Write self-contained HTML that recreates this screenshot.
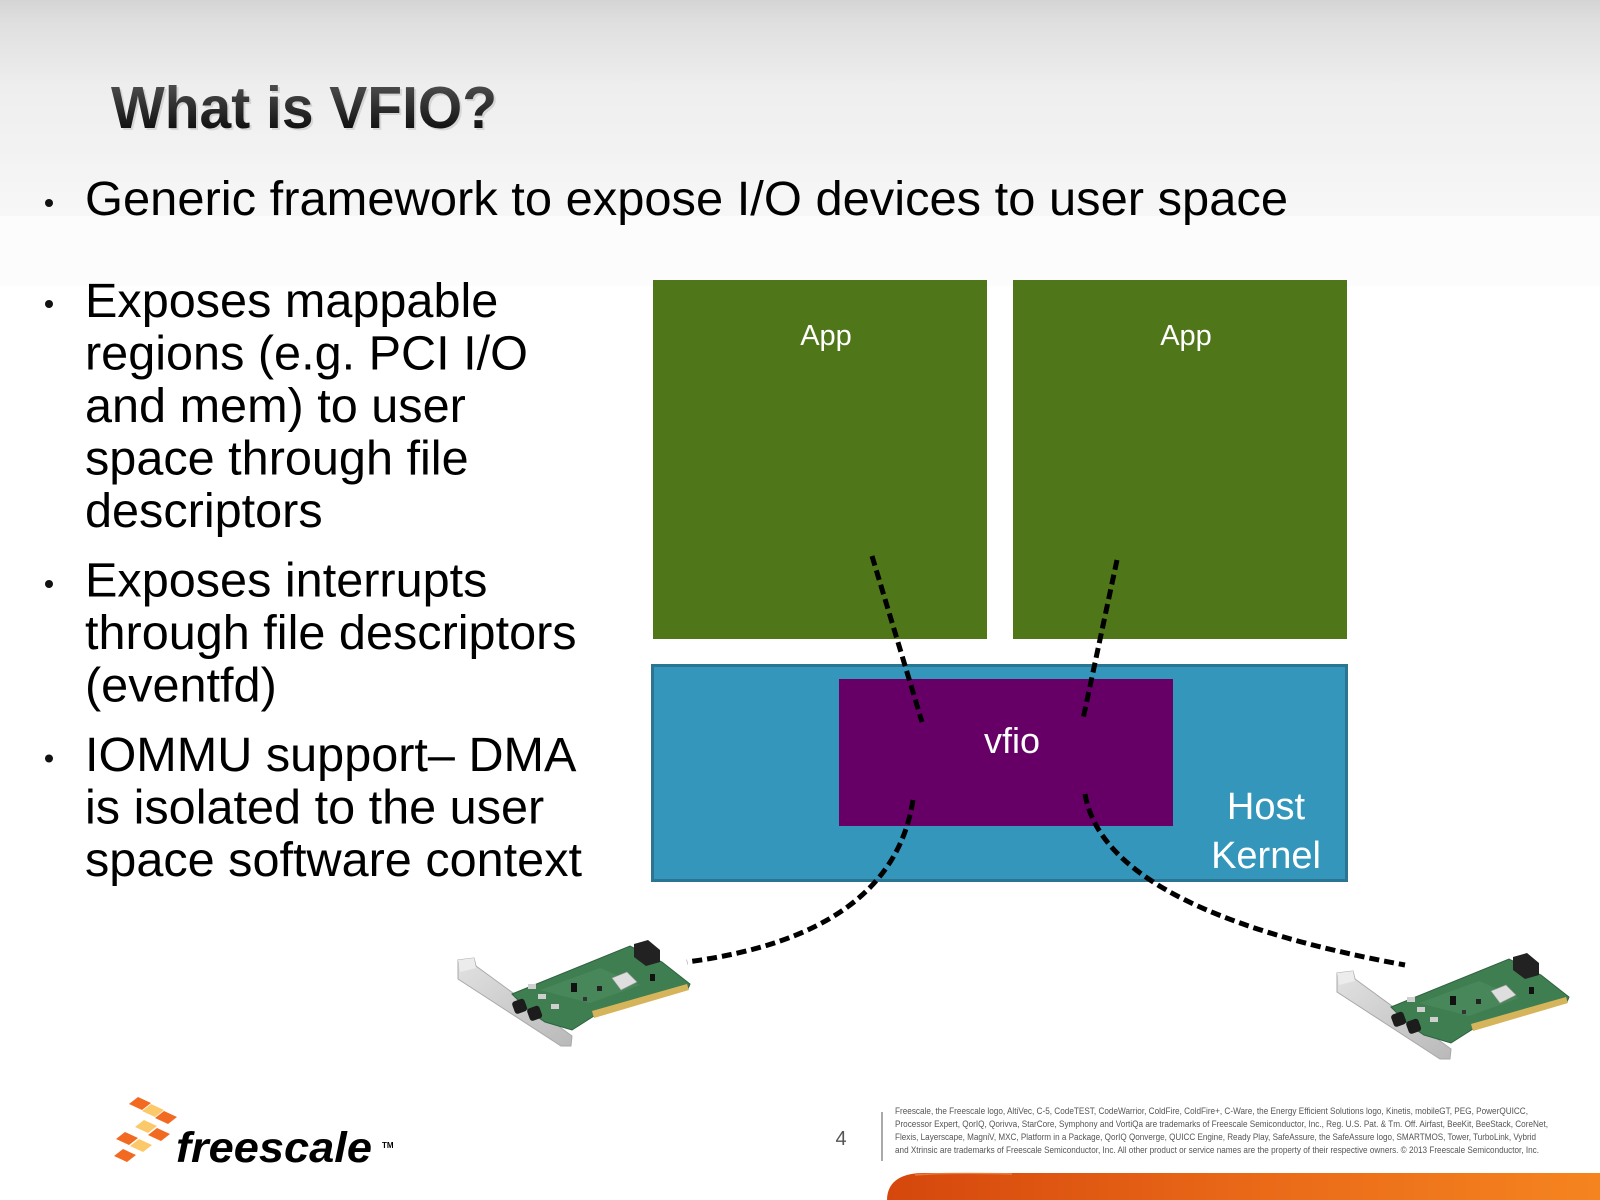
<!DOCTYPE html>
<html><head><meta charset="utf-8"><style>
html,body{margin:0;padding:0;background:#fff;}
svg{display:block;}
</style></head><body>
<svg width="1600" height="1200" viewBox="0 0 1600 1200" xmlns="http://www.w3.org/2000/svg" font-family="'Liberation Sans', Arial, sans-serif">
<defs>
 <linearGradient id="hdr" x1="0" y1="0" x2="0" y2="1">
  <stop offset="0" stop-color="#d4d4d4"/>
  <stop offset="0.1" stop-color="#dfdfdf"/>
  <stop offset="0.4" stop-color="#eeeeee"/>
  <stop offset="1" stop-color="#f7f7f7"/>
 </linearGradient>
 <linearGradient id="ttl" x1="0" y1="0" x2="0" y2="1">
  <stop offset="0" stop-color="#5a5a5a"/>
  <stop offset="1" stop-color="#000000"/>
 </linearGradient>
 <linearGradient id="bar" x1="0" y1="0" x2="1" y2="0">
  <stop offset="0" stop-color="#d5470c"/>
  <stop offset="0.5" stop-color="#e96818"/>
  <stop offset="1" stop-color="#f5841f"/>
 </linearGradient>
 <linearGradient id="brk" x1="0" y1="0" x2="1" y2="1">
  <stop offset="0" stop-color="#e2e2e2"/>
  <stop offset="1" stop-color="#b9b9b9"/>
 </linearGradient>
 <g id="card">
  <polygon points="458,960 474,958 476,966 572,1036 571,1046 561,1046 458,979" fill="url(#brk)" stroke="#a8a8a8" stroke-width="1"/>
  <polygon points="458,960 474,958 476,968 460,972" fill="#ececec"/>
  <polygon points="512,994 630,946 662,962 690,984 688,989 594,1016 572,1030 545,1022 530,1012" fill="#3f7e50" stroke="#2f6240" stroke-width="1"/>
  <polygon points="540,990 600,968 640,985 590,1003" fill="#4b8c5c" opacity="0.7"/>
  <polygon points="592,1011 687,984 689,990 594,1018" fill="#d6b45c"/>
  <polygon points="634,944 648,940 660,950 660,962 646,966 634,957" fill="#222"/>
  <polygon points="612,978 627,972 637,982 621,990" fill="#dedede" stroke="#999" stroke-width="0.6"/>
  <rect x="513" y="1000" width="13" height="13" rx="3" fill="#1c1c1c" transform="rotate(-20 519 1006)"/>
  <rect x="528" y="1007" width="13" height="13" rx="3" fill="#1c1c1c" transform="rotate(-20 534 1013)"/>
  <rect x="528" y="984" width="8" height="5" fill="#cfcfcf"/>
  <rect x="538" y="994" width="8" height="5" fill="#cfcfcf"/>
  <rect x="551" y="1004" width="8" height="5" fill="#cfcfcf"/>
  <rect x="571" y="983" width="6" height="9" fill="#111"/>
  <rect x="597" y="986" width="5" height="5" fill="#222"/>
  <rect x="650" y="974" width="5" height="7" fill="#111"/>
  <rect x="583" y="997" width="4" height="4" fill="#333"/>
 </g>
</defs>

<rect x="0" y="0" width="1600" height="1200" fill="#ffffff"/>
<rect x="0" y="0" width="1600" height="216" fill="url(#hdr)"/>
<rect x="0" y="216" width="1600" height="70" fill="#fcfcfc"/>

<text x="113" y="130" font-size="59" font-weight="bold" fill="#000" opacity="0.1" textLength="386" lengthAdjust="spacingAndGlyphs">What is VFIO?</text>
<text x="111" y="128" font-size="59" font-weight="bold" fill="url(#ttl)" textLength="386" lengthAdjust="spacingAndGlyphs">What is VFIO?</text>

<circle cx="49" cy="203" r="4" fill="#111"/>
<text x="85" y="215" font-size="48.6" fill="#000" textLength="1203" lengthAdjust="spacingAndGlyphs">Generic framework to expose I/O devices to user space</text>

<g font-size="48.6" fill="#000">
 <circle cx="49" cy="304" r="4" fill="#111"/>
 <text x="85" y="317">Exposes mappable</text>
 <text x="85" y="369.5">regions (e.g. PCI I/O</text>
 <text x="85" y="422">and mem) to user</text>
 <text x="85" y="474.5">space through file</text>
 <text x="85" y="527">descriptors</text>
 <circle cx="49" cy="584" r="4" fill="#111"/>
 <text x="85" y="596.5">Exposes interrupts</text>
 <text x="85" y="649">through file descriptors</text>
 <text x="85" y="701.5">(eventfd)</text>
 <circle cx="49" cy="758.5" r="4" fill="#111"/>
 <text x="85" y="771">IOMMU support– DMA</text>
 <text x="85" y="823.5">is isolated to the user</text>
 <text x="85" y="876">space software context</text>
</g>

<rect x="653" y="280" width="334" height="359" fill="#4f771a"/>
<rect x="1013" y="280" width="334" height="359" fill="#4f771a"/>
<text x="826" y="345" font-size="29" fill="#fff" text-anchor="middle">App</text>
<text x="1186" y="345" font-size="29" fill="#fff" text-anchor="middle">App</text>

<rect x="652.5" y="665.5" width="694" height="215" fill="#3496ba" stroke="#2c7592" stroke-width="3"/>
<rect x="839" y="679" width="334" height="147" fill="#660066"/>
<text x="1012" y="753" font-size="36" fill="#fff" text-anchor="middle">vfio</text>
<text x="1266" y="819" font-size="38" fill="#fff" text-anchor="middle">Host</text>
<text x="1266" y="868" font-size="38" fill="#fff" text-anchor="middle">Kernel</text>

<g fill="none" stroke="#000" stroke-width="5" stroke-dasharray="10 5">
 <path d="M872,556 L922,722"/>
 <path d="M1117,560 L1083,719"/>
 <path d="M913,800 Q892,935 687,962"/>
 <path d="M1085,794 Q1105,910 1405,965"/>
</g>

<use href="#card"/>
<use href="#card" transform="translate(879,13)"/>

<g>
 <polygon points="129,1104 138,1097 151,1103 142,1110" fill="#f26a21"/>
 <polygon points="142,1111 151,1104 164,1110 155,1117" fill="#fcc96a"/>
 <polygon points="155,1118 164,1111 177,1117 168,1124" fill="#f26a21"/>
 <polygon points="135,1127 144,1120 157,1126 148,1133" fill="#fcc96a"/>
 <polygon points="148,1135 157,1128 170,1134 161,1141" fill="#f26a21"/>
 <polygon points="116,1139 125,1132 138,1138 129,1145" fill="#f26a21"/>
 <polygon points="130,1146 139,1139 152,1145 143,1152" fill="#fcc96a"/>
 <polygon points="114,1156 123,1149 136,1155 127,1162" fill="#f26a21"/>
</g>
<text x="176" y="1162" font-size="43" font-weight="bold" font-style="italic" fill="#000" textLength="196" lengthAdjust="spacingAndGlyphs">freescale</text>
<text x="382" y="1148" font-size="8" font-weight="bold" fill="#000">TM</text>

<text x="841" y="1145" font-size="20" fill="#555" text-anchor="middle">4</text>
<line x1="882" y1="1112" x2="882" y2="1161" stroke="#aaa" stroke-width="2"/>
<g font-size="9" fill="#555">
 <text x="895" y="1114" textLength="633" lengthAdjust="spacingAndGlyphs">Freescale, the Freescale logo, AltiVec, C-5, CodeTEST, CodeWarrior, ColdFire, ColdFire+, C-Ware, the Energy Efficient Solutions logo, Kinetis, mobileGT, PEG, PowerQUICC,</text>
 <text x="895" y="1127" textLength="653" lengthAdjust="spacingAndGlyphs">Processor Expert, QorIQ, Qorivva, StarCore, Symphony and VortiQa are trademarks of Freescale Semiconductor, Inc., Reg. U.S. Pat. &amp; Tm. Off. Airfast, BeeKit, BeeStack, CoreNet,</text>
 <text x="895" y="1140" textLength="641" lengthAdjust="spacingAndGlyphs">Flexis, Layerscape, MagniV, MXC, Platform in a Package, QorIQ Qonverge, QUICC Engine, Ready Play, SafeAssure, the SafeAssure logo, SMARTMOS, Tower, TurboLink, Vybrid</text>
 <text x="895" y="1153" textLength="644" lengthAdjust="spacingAndGlyphs">and Xtrinsic are trademarks of Freescale Semiconductor, Inc. All other product or service names are the property of their respective owners. © 2013 Freescale Semiconductor, Inc.</text>
</g>

<path d="M887,1200 C887,1184 898,1173 924,1173 L1600,1173 L1600,1200 Z" fill="url(#bar)"/>
<path d="M915,1175 C940,1173 980,1173 1012,1174" stroke="#f49a5a" stroke-width="1.5" fill="none" opacity="0.6"/>
</svg>
</body></html>
